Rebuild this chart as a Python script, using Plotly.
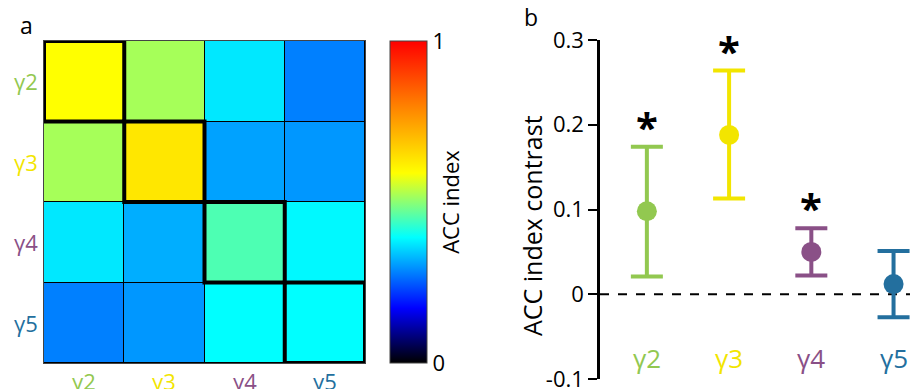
import plotly.graph_objects as go

labels = ["γ2", "γ3", "γ4", "γ5"]
label_colors = ["#92C850", "#F2E500", "#8A5087", "#236F9E"]

# ACC index matrix (rows γ2..γ5, columns γ2..γ5)
acc_matrix = [
    [0.59, 0.52, 0.37, 0.28],
    [0.52, 0.63, 0.31, 0.30],
    [0.37, 0.32, 0.45, 0.385],
    [0.28, 0.30, 0.39, 0.39],
]

# ACC index contrast
contrast_mean = [0.098, 0.188, 0.050, 0.012]
contrast_upper = [0.174, 0.264, 0.078, 0.051]
contrast_lower = [0.021, 0.113, 0.022, -0.027]
significant = [True, True, True, False]

y_ticks = [-0.1, 0, 0.1, 0.2, 0.3]
y_tick_text = ["-0.1", "0", "0.1", "0.2", "0.3"]

jet_black = [
    [0.0, "rgb(0,0,0)"],
    [0.17, "rgb(0,0,255)"],
    [0.39, "rgb(0,255,255)"],
    [0.59, "rgb(255,255,0)"],
    [0.80, "rgb(255,128,0)"],
    [1.0, "rgb(255,0,0)"],
]

FONT = "Open Sans"
W, H = 910, 389

def px_x(a, b):
    return [a / W, b / W]

def px_y(top, bottom):
    return [1 - bottom / H, 1 - top / H]

fig = go.Figure()

idx = list(range(len(labels)))

fig.add_trace(go.Heatmap(
    z=acc_matrix, x=idx, y=idx,
    colorscale=jet_black, zmin=0, zmax=1,
    xgap=1, ygap=1,
    xaxis="x", yaxis="y",
    colorbar=dict(
        x=390 / W, xanchor="left", xpad=0,
        y=1 - 202 / H, yanchor="middle", ypad=0,
        len=322, lenmode="pixels",
        thickness=37, thicknessmode="pixels",
        outlinewidth=1, outlinecolor="#444",
        tickvals=[0, 1], ticktext=["0", "1"], ticks="",
        tickfont=dict(family=FONT, size=22, color="black"),
        title=dict(text="ACC index", side="right",
                   font=dict(family=FONT, size=22, color="black")),
    ),
    hoverinfo="skip",
))

# panel b error bars
for i, lab in enumerate(labels):
    fig.add_trace(go.Scatter(
        x=[i + 1], y=[contrast_mean[i]],
        mode="markers",
        marker=dict(size=20, color=label_colors[i]),
        error_y=dict(type="data", symmetric=False,
                     array=[contrast_upper[i] - contrast_mean[i]],
                     arrayminus=[contrast_mean[i] - contrast_lower[i]],
                     color=label_colors[i], thickness=4, width=16),
        xaxis="x2", yaxis="y2", showlegend=False, hoverinfo="skip",
    ))

shapes = []
# black backdrop for grid lines in heatmap
shapes.append(dict(type="rect", xref="x", yref="y", x0=-0.5, x1=3.5, y0=-0.5, y1=3.5,
                   fillcolor="black", line=dict(width=0), layer="below"))
# thick borders around diagonal cells
for i in idx:
    shapes.append(dict(type="rect", xref="x", yref="y",
                       x0=i - 0.5, x1=i + 0.5, y0=i - 0.5, y1=i + 0.5,
                       line=dict(color="black", width=4), fillcolor="rgba(0,0,0,0)"))
# dashed zero line
shapes.append(dict(type="line", xref="x2 domain", yref="y2", x0=0, x1=1, y0=0, y1=0,
                   line=dict(color="black", width=2, dash="dash"), layer="below"))

annotations = []
for i, lab in enumerate(labels):
    # heatmap row labels
    annotations.append(dict(xref="paper", yref="y", x=40 / W, y=i, xanchor="right",
                            text=lab, showarrow=False,
                            font=dict(family=FONT, size=22, color=label_colors[i])))
    # heatmap column labels
    annotations.append(dict(xref="x", yref="paper", x=i, y=1 - 364 / H, yanchor="top",
                            text=lab, showarrow=False,
                            font=dict(family=FONT, size=22, color=label_colors[i])))
    # panel b category labels
    annotations.append(dict(xref="x2", yref="y2", x=i + 1, y=-0.075,
                            text=lab, showarrow=False,
                            font=dict(family=FONT, size=26, color=label_colors[i])))
    if significant[i]:
        annotations.append(dict(xref="x2", yref="y2", x=i + 1, y=contrast_upper[i],
                                yanchor="bottom", yshift=-9,
                                text="<b>*</b>", showarrow=False,
                                font=dict(family=FONT, size=40, color="black")))

annotations.append(dict(xref="paper", yref="paper", x=18 / W, y=1 - 25 / H,
                        text="a", showarrow=False, xanchor="left", yanchor="middle",
                        font=dict(family=FONT, size=23, color="black")))
annotations.append(dict(xref="paper", yref="paper", x=522 / W, y=1 - 17 / H,
                        text="b", showarrow=False, xanchor="left", yanchor="middle",
                        font=dict(family=FONT, size=23, color="black")))
# y-axis title of panel b
annotations.append(dict(xref="paper", yref="paper", x=532 / W, y=1 - 226 / H,
                        text="ACC index contrast", textangle=-90, showarrow=False,
                        xanchor="center", yanchor="middle",
                        font=dict(family=FONT, size=25, color="black")))

fig.update_layout(
    width=W, height=H,
    margin=dict(l=0, r=0, t=0, b=0, autoexpand=False),
    paper_bgcolor="white", plot_bgcolor="white",
    showlegend=False,
    xaxis=dict(domain=px_x(44, 365), range=[-0.5, 3.5], showticklabels=False,
               showgrid=False, zeroline=False, ticks="",
               showline=True, linecolor="#444", linewidth=1, mirror=True),
    yaxis=dict(domain=px_y(41, 363), range=[3.5, -0.5], showticklabels=False,
               showgrid=False, zeroline=False, ticks="",
               showline=True, linecolor="#444", linewidth=1, mirror=True),
    xaxis2=dict(domain=px_x(600, 910), range=[0.43, 4.2], anchor="y2",
                showticklabels=False, showgrid=False, zeroline=False,
                showline=False, ticks=""),
    yaxis2=dict(domain=px_y(40, 379), range=[-0.1, 0.3], anchor="x2",
                tickvals=y_ticks, ticktext=y_tick_text,
                ticks="outside", ticklen=9, tickwidth=2, tickcolor="black",
                ticklabeloverflow="allow",
                showline=True, linecolor="black", linewidth=2.5,
                showgrid=False, zeroline=False,
                tickfont=dict(family=FONT, size=22, color="black")),
    shapes=shapes,
    annotations=annotations,
)

fig.write_html("out.html")
